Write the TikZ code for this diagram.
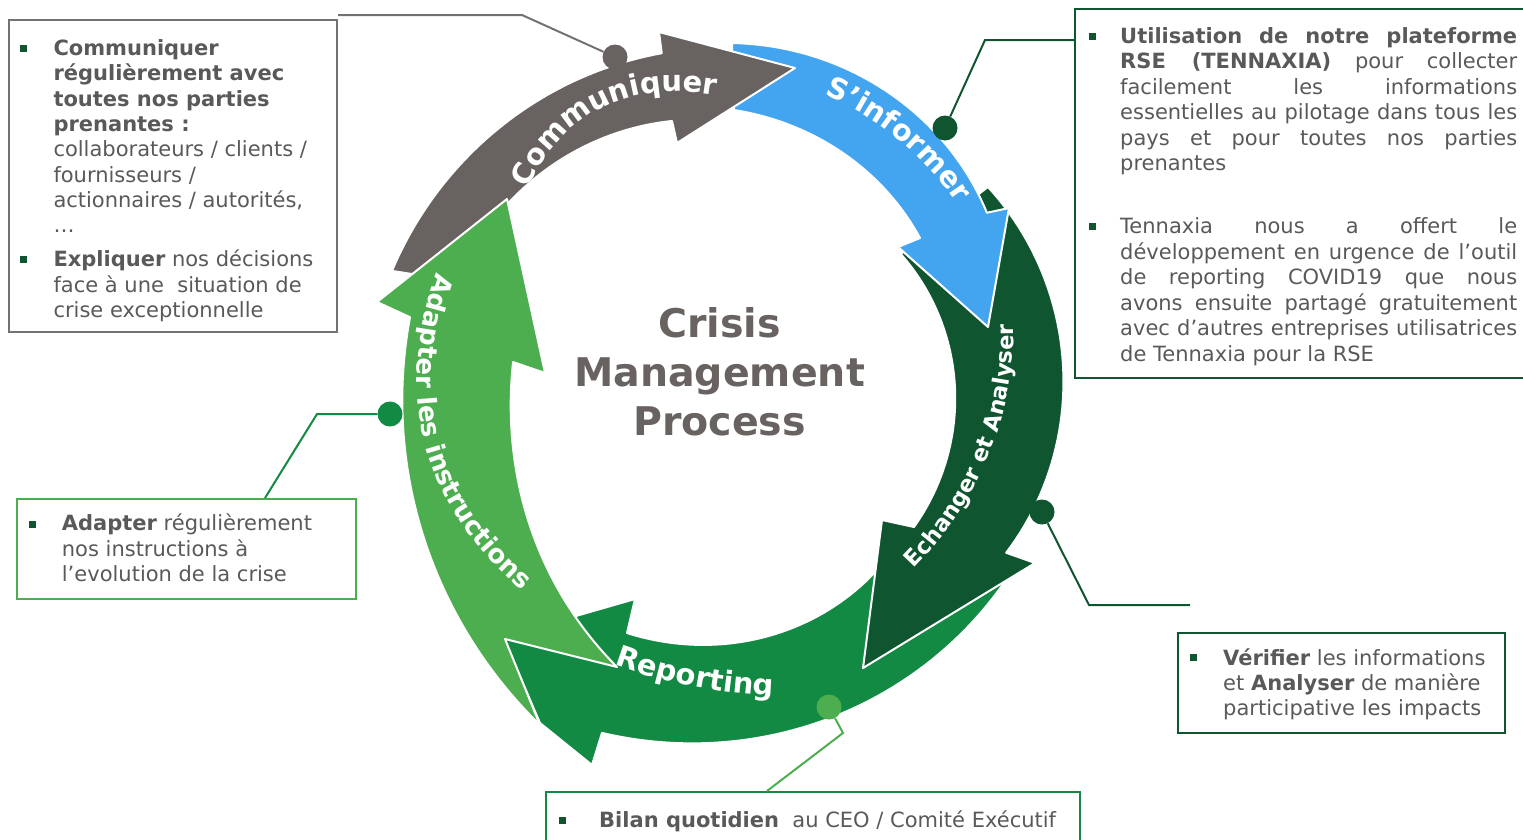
\documentclass[tikz,border=0pt]{standalone}
\usepackage{fontspec}
\setmainfont{DejaVu Sans}
\usetikzlibrary{decorations.text}
\definecolor{cgray}{HTML}{686361}
\definecolor{cblue}{HTML}{43A4EF}
\definecolor{cdark}{HTML}{0F5530}
\definecolor{cmed}{HTML}{138A43}
\definecolor{clight}{HTML}{4DAE4F}
\definecolor{ctext}{HTML}{595959}
\definecolor{cbox}{HTML}{767171}
\newcommand{\bodyfont}{\fontsize{21}{25.5}\selectfont}
\newcommand{\lblfont}{\bfseries\fontsize{29}{29}\selectfont}
\newcommand{\lblfontb}{\bfseries\fontsize{26}{26}\selectfont}
\newcommand{\lblfontc}{\bfseries\fontsize{22.5}{22.5}\selectfont}
\begin{document}
\begin{tikzpicture}[x=1pt,y=-1pt,
  declare function={
    rq(\t,\p,\q,\s)=\p*(1-\t)*(1-2*\t)+4*\q*\t*(1-\t)+\s*\t*(2*\t-1);
    ex(\t,\a,\b,\p,\q,\s)=732+rq(\t,\p,\q,\s)*cos(\a+(\b-\a)*\t);
    ey(\t,\a,\b,\p,\q,\s)=392+rq(\t,\p,\q,\s)*sin(\a+(\b-\a)*\t);
  },
  pl/.style={domain=0:1, samples=48, variable=\t},
  arrowshape/.style={draw=white, line width=2pt, line join=round},
  bodytext/.style={anchor=base west, inner sep=0pt, text=ctext, font=\bodyfont},
  titletext/.style={anchor=base, inner sep=0pt, text=cgray, font=\bfseries\fontsize{39.5}{48}\selectfont},
  bulletsq/.style={rectangle, fill=cdark, minimum size=7pt, inner sep=0pt},
  dotc/.style={circle, minimum size=25pt, inner sep=0pt},
  conn/.style={line width=2pt},
  framebox/.style={draw, line width=2pt, inner sep=0pt, anchor=north west},
]
\useasboundingbox (0,0) rectangle (1523,839);

% ---------- arrows (order: reporting, dark green, blue, gray, light green)
\fill[cmed, arrowshape]
  plot[pl] ({ex(\t,33.2,110.9,332.3,340,364.9)},{ey(\t,33.2,110.9,332.3,340,364.9)})
  -- (592,765) -- (540,723) -- (503,637) -- (635,599) -- (627,633)
  -- plot[pl] ({ex(\t,113.5,41.4,262.9,244.6,223.9)},{ey(\t,113.5,41.4,262.9,244.6,223.9)}) -- cycle;

\fill[cdark, arrowshape]
  plot[pl] ({ex(\t,-38.7,30.4,328,332,317.8)},{ey(\t,-38.7,30.4,328,332,317.8)})
  -- (1035,563) -- (863,668) -- (882,520) -- (914,527)
  -- plot[pl] ({ex(\t,36.6,-39.3,226.6,223,218)},{ey(\t,36.6,-39.3,226.6,223,218)}) -- cycle;

\fill[cblue, arrowshape]
  plot[pl] ({ex(\t,-90,-35.1,349,338,311.6)},{ey(\t,-90,-35.1,349,338,311.6)})
  -- (1009,208) -- (988,327) -- (898,247) -- (920,238)
  -- plot[pl] ({ex(\t,-39.3,-89.6,243,263,282)},{ey(\t,-39.3,-89.6,243,263,282)}) -- cycle;

\fill[cgray, arrowshape]
  plot[pl] ({ex(\t,-160.4,-101.7,361,352,346)},{ey(\t,-160.4,-101.7,361,352,346)})
  -- (659,32) -- (795,68) -- (677,143) -- (672,121)
  -- plot[pl] ({ex(\t,-102.5,-158,277.6,290,296)},{ey(\t,-102.5,-158,277.6,290,296)}) -- cycle;

\fill[clight, arrowshape] (617,667) -- (505,639) -- (540,725)
  -- plot[pl] ({ex(\t,120,193.1,384.4,339.5,330.6)},{ey(\t,120,193.1,384.4,339.5,330.6)})
  -- (377,302) -- (507,199) -- (545,373) -- (513,362)
  -- plot[pl] ({ex(\t,187.8,112.7,221,238.3,298.1)},{ey(\t,187.8,112.7,221,238.3,298.1)}) -- cycle;

% ---------- arrow labels (local coordinates, canvas-shifted)
\begin{scope}[transform canvas={shift={(620pt,-150pt)}}]
\path[decorate, decoration={text along path, text align={center, left indent=20pt}, text color=white, text={|\lblfont|Communiquer}}]
  (-105,70) .. controls (-69.8,-34) and (2.6,-75) .. (110,-52);
\end{scope}
\begin{scope}[transform canvas={shift={(890pt,-160pt)}}]
\path[decorate, decoration={text along path, text align={center, right indent=16pt}, text color=white, text={|\lblfont|S’informer}}]
  (-90,-72) .. controls (-22.4,-58.3) and (62,14.9) .. (85,80);
\end{scope}
\begin{scope}[transform canvas={shift={(960pt,-440pt)}}]
\path[decorate, decoration={text along path, text align=center, text color=white, text={|\lblfontc|Echanger et Analyser}}]
  (-80,158) .. controls (18,84) and (71.2,-46.5) .. (48,-160);
\end{scope}
\begin{scope}[transform canvas={shift={(700pt,-690pt)}}]
\path[decorate, decoration={text along path, text align=center, text color=white, text={|\lblfont|Reporting}}]
  (-110,-35) .. controls (-44.2,-6.9) and (28.4,7.3) .. (100,6);
\end{scope}
\begin{scope}[transform canvas={shift={(470pt,-430pt)}}]
\path[decorate, decoration={text along path, text align=center, text color=white, text={|\lblfontb|Adapter les instructions}}]
  (-20,-190) .. controls (-86.2,-39.6) and (-52.8,85.2) .. (80,182);
\end{scope}

% ---------- title
\node[titletext] (t1) at (719.5,337) {Crisis};
\node[titletext] (t2) at (719.5,386) {Management};
\node[titletext] (t3) at (719.5,435) {Process};

% ---------- boxes
\node[framebox, draw=cbox, minimum width=328pt, minimum height=312pt] (lbox) at (8,19) {};
\node[framebox, draw=cdark, minimum width=470pt, minimum height=369pt] (rbox) at (1074,8) {};
\node[framebox, draw=clight, minimum width=339pt, minimum height=100pt] (abox) at (16,498) {};
\node[framebox, draw=cdark, minimum width=327pt, minimum height=100pt] (vbox) at (1177,632) {};
\node[framebox, draw=cmed, minimum width=534pt, minimum height=70pt] (bbox) at (545,791) {};

% ---------- left box text
\node[bulletsq] (lb1) at (23.5,48.2) {};
\node[bodytext] (l1) at (53.3,55.5) {\textbf{Communiquer}};
\node[bodytext] (l2) at (53.3,80.8) {\textbf{régulièrement avec}};
\node[bodytext] (l3) at (53.3,106.1) {\textbf{toutes nos parties}};
\node[bodytext] (l4) at (53.3,131.4) {\textbf{prenantes :}};
\node[bodytext] (l5) at (53.3,156.7) {collaborateurs / clients /};
\node[bodytext] (l6) at (53.3,182) {fournisseurs /};
\node[bodytext] (l7) at (53.3,207.3) {actionnaires / autorités,};
\node[bodytext] (l8) at (53.3,232.6) {…};
\node[bulletsq] (lb2) at (23.5,259.4) {};
\node[bodytext] (l9) at (53.3,266.7) {\textbf{Expliquer} nos décisions};
\node[bodytext] (l10) at (53.3,292) {face à une\ \ situation de};
\node[bodytext] (l11) at (53.3,317.3) {crise exceptionnelle};

% ---------- right box text
\node[bulletsq] (rb1) at (1092,36) {};
\node[bodytext] (r1) at (1120,43) {\makebox[397pt][s]{\textbf{Utilisation de notre plateforme}}};
\node[bodytext] (r2) at (1120,68.5) {\makebox[397pt][s]{\textbf{RSE (TENNAXIA)} pour collecter}};
\node[bodytext] (r3) at (1120,94) {\makebox[397pt][s]{facilement les informations}};
\node[bodytext] (r4) at (1120,119.5) {\makebox[397pt][s]{essentielles au pilotage dans tous les}};
\node[bodytext] (r5) at (1120,145) {\makebox[397pt][s]{pays et pour toutes nos parties}};
\node[bodytext] (r6) at (1120,170.5) {prenantes};
\node[bulletsq] (rb2) at (1092,226.5) {};
\node[bodytext] (r7) at (1120,233.5) {\makebox[397pt][s]{Tennaxia nous a offert le}};
\node[bodytext] (r8) at (1120,259) {\makebox[397pt][s]{développement en urgence de l’outil}};
\node[bodytext] (r9) at (1120,284.5) {\makebox[397pt][s]{de reporting COVID19 que nous}};
\node[bodytext] (r10) at (1120,310) {\makebox[397pt][s]{avons ensuite partagé gratuitement}};
\node[bodytext] (r11) at (1120,335.5) {\makebox[397pt][s]{avec d’autres entreprises utilisatrices}};
\node[bodytext] (r12) at (1120,361) {de Tennaxia pour la RSE};

% ---------- adapter box text
\node[bulletsq] (ab1) at (32.7,524) {};
\node[bodytext] (a1) at (61.7,530.7) {\textbf{Adapter} régulièrement};
\node[bodytext] (a2) at (61.7,556.2) {nos instructions à};
\node[bodytext] (a3) at (61.7,581.7) {l’evolution de la crise};

% ---------- verifier box text
\node[bulletsq] (vb1) at (1193.5,657.7) {};
\node[bodytext] (v1) at (1223,665) {\textbf{Vérifier} les informations};
\node[bodytext] (v2) at (1223,690) {et \textbf{Analyser} de manière};
\node[bodytext] (v3) at (1223,715) {participative les impacts};

% ---------- bilan box text
\node[bulletsq] (bb1) at (562,820) {};
\node[bodytext] (b1) at (599,827) {\textbf{Bilan quotidien}\ \ au CEO / Comité Exécutif};

% ---------- connectors
\coordinate (gA) at (338,15);
\coordinate (gB) at (522,15);
\coordinate (dA) at (1074,40);
\coordinate (dB) at (985,40);
\coordinate (aA) at (265,498);
\coordinate (aB) at (317,414);
\coordinate (vA) at (1089,605);
\coordinate (vB) at (1190,605);
\coordinate (bA) at (843,733);
\coordinate (bB) at (767,791);

\node[dotc] (gdot) at (615,57) {};
\node[dotc] (ddot) at (945,128) {};
\node[dotc] (adot) at (390,414) {};
\node[dotc] (vdot) at (1042,512) {};
\node[dotc] (bdot) at (829,707) {};

\draw[conn, cbox] (gA) -- (gB) -- (gdot);
\draw[conn, cdark] (dA) -- (dB) -- (ddot);
\draw[conn, cmed] (aA) -- (aB) -- (adot);
\draw[conn, cdark] (vdot) -- (vA) -- (vB);
\draw[conn, clight] (bdot) -- (bA) -- (bB);

\fill[cgray] (gdot) circle[radius=12.5];
\fill[cdark] (ddot) circle[radius=12.5];
\fill[cmed] (adot) circle[radius=12.5];
\fill[cdark] (vdot) circle[radius=12.5];
\fill[clight] (bdot) circle[radius=12.5];
\end{tikzpicture}
\end{document}
